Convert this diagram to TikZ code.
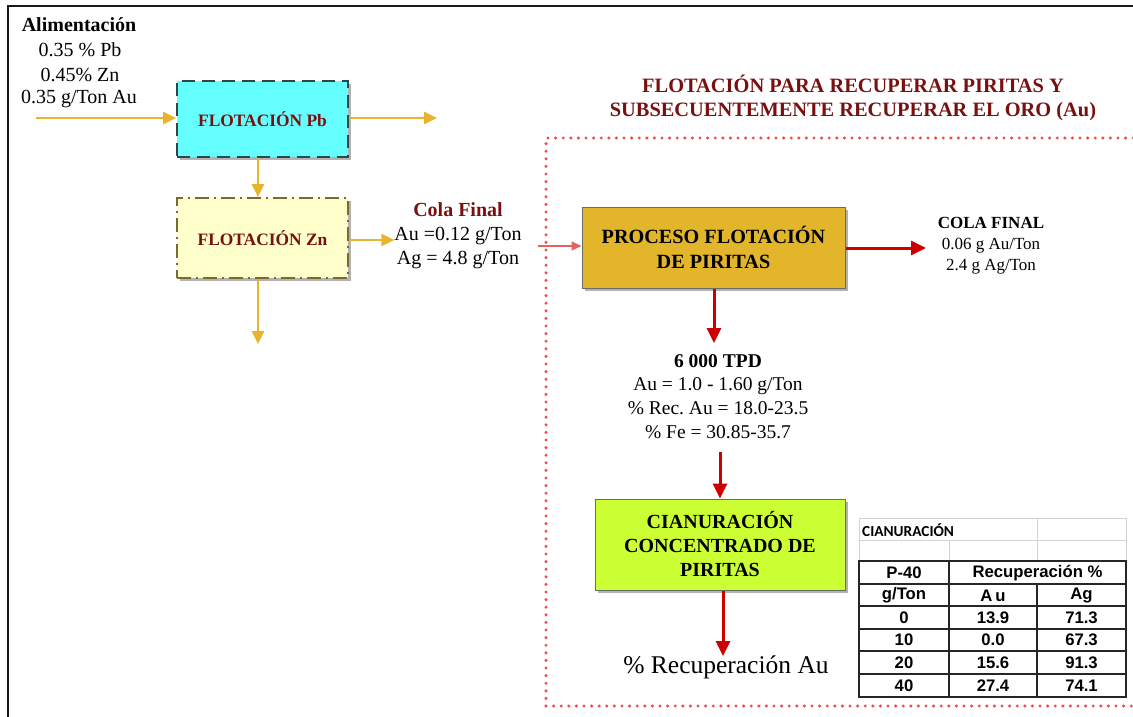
\documentclass[tikz,border=0pt]{standalone}
\usepackage{fontspec}
\setmainfont{Liberation Serif}
\newfontfamily\arialf{Liberation Sans}
\newfontfamily\calibf{Carlito}
\usetikzlibrary{arrows.meta,shadows}

\definecolor{goldarrow}{RGB}{233,180,44}
\definecolor{cyanfill}{RGB}{102,255,255}
\definecolor{pbborder}{RGB}{45,70,70}
\definecolor{znfill}{RGB}{255,255,204}
\definecolor{znborder}{RGB}{125,104,48}
\definecolor{darkred}{RGB}{120,16,16}
\definecolor{procfill}{RGB}{227,181,43}
\definecolor{cianfill}{RGB}{204,255,51}
\definecolor{boxborder}{RGB}{100,110,100}
\definecolor{redarrow}{RGB}{204,0,0}
\definecolor{lightred}{RGB}{224,100,100}
\definecolor{dotred}{RGB}{238,80,80}
\definecolor{gridgrey}{RGB}{210,210,210}

\tikzset{
  goldflow/.style={draw=goldarrow, line width=2.8pt, -{Triangle[length=13pt,width=12pt]}},
  redflow/.style={draw=redarrow, line width=3pt, -{Triangle[length=15pt,width=14pt]}},
  thinred/.style={draw=lightred, line width=1.5pt, -{Triangle[length=10pt,width=9pt]}, color=lightred},
  unitbox/.style={rectangle, inner sep=2pt, align=center,
    drop shadow={shadow xshift=3pt, shadow yshift=-3pt, opacity=0.5, fill=black!60}},
  datatext/.style={align=center, font=\fontsize{20}{24}\selectfont, inner sep=0pt},
  cellbold/.style={font=\arialf\bfseries\fontsize{16.7}{17}\selectfont, inner sep=0pt},
}

\begin{document}
\frenchspacing
\begin{tikzpicture}[x=1pt,y=-1pt]
\useasboundingbox (0,0) rectangle (1133,717);

% outer frame (top and left edges)
\draw[line width=2.5pt, black!90] (1133,6) -- (8,6) -- (8,717);

% feed data
\node[datatext, font=\bfseries\fontsize{20}{22}\selectfont] (alim) at (79,25) {Alimentación};
\node[datatext] (pbfeed) at (80,50) {0.35 \% Pb};
\node[datatext] (znfeed) at (80,75) {0.45\% Zn};
\node[datatext] (aufeed) at (79,99) {0.35 g/Ton Au};
\coordinate (feedin) at (36,118);

% lead and zinc flotation
\node[unitbox, fill=cyanfill, draw=pbborder, line width=1.8pt, dash pattern=on 13pt off 7pt,
      minimum width=171pt, minimum height=76pt,
      font=\bfseries\fontsize{17.4}{20}\selectfont, text=darkred] (pb) at (262.5,119) {FLOTACIÓN Pb};
\node[unitbox, fill=znfill, draw=znborder, line width=1.8pt,
      dash pattern=on 14pt off 5pt on 2pt off 5pt,
      minimum width=171pt, minimum height=80pt,
      font=\bfseries\fontsize{17.4}{20}\selectfont, text=darkred] (zn) at (262.5,238) {FLOTACIÓN Zn};
\coordinate (pbout) at (437,118);
\coordinate (znconc) at (258,344);

\draw[goldflow] (feedin) -- (pb.west |- feedin);
\draw[goldflow] (pb.east |- pbout) -- (pbout);
\draw[goldflow] (pb.south -| znconc) -- (zn.north -| znconc);
\draw[goldflow] (zn.south -| znconc) -- (znconc);

% zinc tailings
\node[datatext, anchor=north] (cola) at (458,202) {\textcolor{darkred}{\bfseries Cola Final}\\Au =0.12 g/Ton\\Ag = 4.8 g/Ton};
\draw[goldflow] (zn.east |- 0,240) -- (cola.west |- 0,240);

% title of the pyrite section
\node[align=center, font=\bfseries\fontsize{20.4}{24}\selectfont, text=darkred] (title) at (853,98)
  {FLOTACIÓN PARA RECUPERAR PIRITAS Y\\SUBSECUENTEMENTE RECUPERAR EL ORO (Au)};

% dotted frame of the pyrite section
\draw[dotred, line width=3.4pt, line cap=round, dash pattern=on 0pt off 7.6pt]
  (546,706) -- (546,138) -- (1140,138);
\draw[dotred, line width=3.4pt, line cap=round, dash pattern=on 0pt off 7.6pt]
  (546,706) -- (1140,706);

% pyrite flotation
\node[unitbox, fill=procfill, draw=boxborder, line width=1pt,
      minimum width=263pt, minimum height=81pt,
      font=\bfseries\fontsize{20.2}{25}\selectfont] (proc) at (713.5,247.5) {PROCESO FLOTACIÓN\\DE PIRITAS};
\coordinate (tailin) at (538,246);
\draw[thinred] (tailin) -- (proc.west |- tailin);

\node[align=center, inner sep=0pt, font=\fontsize{17}{21}\selectfont, anchor=north] (colafin) at (991,217)
  {{\bfseries COLA FINAL}\\0.06 g Au/Ton\\2.4 g Ag/Ton};
\draw[redflow] (proc.east |- 0,248) -- (926,248);

% pyrite concentrate
\node[datatext, anchor=north, font=\fontsize{19.5}{23.8}\selectfont] (conc) at (718,354)
  {{\bfseries 6 000 TPD}\\Au = 1.0 - 1.60 g/Ton\\\% Rec. Au = 18.0-23.5\\\% Fe = 30.85-35.7};
\draw[redflow] (proc.south -| 714,0) -- (714,343);

% cyanidation
\node[unitbox, fill=cianfill, draw=boxborder, line width=1pt,
      minimum width=250pt, minimum height=91pt,
      font=\bfseries\fontsize{20}{24}\selectfont] (cian) at (720,544.5) {CIANURACIÓN\\CONCENTRADO DE\\PIRITAS};
\draw[redflow] (720,452) -- (cian.north -| 720,0);

\node[font=\fontsize{25.5}{28}\selectfont, inner sep=0pt] (recau) at (726,667) {\% Recuperación Au};
\draw[redflow] (cian.south -| 723,0) -- (723,656);

% cyanidation results table
\fill[white] (859,518) rectangle (1126,697);
\draw[gridgrey, line width=0.8pt] (859,518) rectangle (1126,561);
\draw[gridgrey, line width=0.8pt] (859,540) -- (1126,540);
\draw[gridgrey, line width=0.8pt] (949,540) -- (949,561);
\draw[gridgrey, line width=0.8pt] (1037,518) -- (1037,561);
\node[anchor=west, inner sep=0pt, font=\calibf\bfseries\fontsize{15.3}{16}\selectfont] (tcap) at (862,530) {CIANURACIÓN};

\draw[black!85, line width=1.3pt] (859,561) rectangle (1126,697);
\foreach \yy in {584,606,629,651,674} \draw[black!85, line width=1.3pt] (859,\yy) -- (1126,\yy);
\draw[black!85, line width=1.3pt] (949,561) -- (949,697);
\draw[black!85, line width=1.3pt] (1037,584) -- (1037,697);

\node[cellbold] (h1) at (904,573) {P-40};
\node[cellbold] (h2) at (1037.5,573) {Recuperación \%};
\node[cellbold] (h3) at (904,595.5) {g/Ton};
\node[cellbold] (h4) at (993,595.5) {A\,u};
\node[cellbold] (h5) at (1081.5,595.5) {Ag};
\foreach \dose/\au/\ag/\yy [count=\i] in {0/13.9/71.3/617.5, 10/0.0/67.3/640, 20/15.6/91.3/662.5, 40/27.4/74.1/685.5}{
  \node[cellbold] (d\i) at (904,\yy) {\dose};
  \node[cellbold] (a\i) at (993,\yy) {\au};
  \node[cellbold] (g\i) at (1081.5,\yy) {\ag};
}
\end{tikzpicture}
\end{document}
